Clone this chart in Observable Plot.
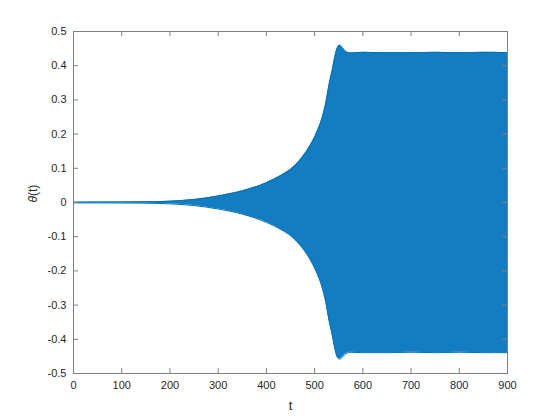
<!DOCTYPE html>
<html>
<head>
<meta charset="utf-8">
<script src="https://cdn.jsdelivr.net/npm/d3@7"></script>
<script src="https://cdn.jsdelivr.net/npm/@observablehq/plot@0.6"></script>
<style>
  html, body { margin: 0; padding: 0; background: #fff; }
  #chart { width: 560px; height: 420px; }
</style>
</head>
<body>
<div id="chart"></div>
<script>
// Envelope of the oscillation θ(t)
const tValues  = [0, 100, 150, 200, 250, 300, 350, 400, 430, 450, 470, 490, 505, 515, 523, 530, 537, 541, 547, 552, 558, 565, 575, 600, 650, 700, 750, 800, 850, 900];
const upperEnv = [0.001, 0.0015, 0.002, 0.004, 0.009, 0.019, 0.034, 0.058, 0.079, 0.097, 0.125, 0.165, 0.207, 0.245, 0.29, 0.345, 0.39, 0.42, 0.452, 0.46, 0.452, 0.441, 0.437, 0.439, 0.438, 0.438, 0.439, 0.438, 0.439, 0.438];
const lowerEnv = [-0.001, -0.0015, -0.002, -0.004, -0.009, -0.019, -0.034, -0.058, -0.079, -0.097, -0.125, -0.165, -0.207, -0.245, -0.29, -0.345, -0.39, -0.42, -0.452, -0.458, -0.452, -0.442, -0.438, -0.439, -0.439, -0.438, -0.439, -0.438, -0.439, -0.439];

const xTicks = [0, 100, 200, 300, 400, 500, 600, 700, 800, 900];
const yTicks = [-0.5, -0.4, -0.3, -0.2, -0.1, 0, 0.1, 0.2, 0.3, 0.4, 0.5];

const xLabel = "t";
const yLabel = "θ(t)";

const env = tValues.map((t, i) => ({t, hi: upperEnv[i], lo: lowerEnv[i]}));

const blue = "#0072BD";
const axisGray = "#808080";
const textCol = "#262626";

const fmtY = d => d === 0 ? "0" : String(d);

const chart = Plot.plot({
  width: 560,
  height: 420,
  marginLeft: 73,
  marginRight: 53,
  marginTop: 31,
  marginBottom: 47,
  style: {fontFamily: "Liberation Sans, Arial, sans-serif", fontSize: "11px", color: textCol, background: "#fff"},
  x: {domain: [0, 900]},
  y: {domain: [-0.5, 0.5]},
  marks: [
    Plot.areaY(env, {x: "t", y1: "lo", y2: "hi", fill: blue, fillOpacity: 0.92, curve: "monotone-x"}),
    Plot.line(env, {x: "t", y: "hi", stroke: blue, strokeWidth: 1, curve: "monotone-x"}),
    Plot.line(env, {x: "t", y: "lo", stroke: blue, strokeWidth: 1, curve: "monotone-x"}),
    Plot.frame({stroke: axisGray, strokeWidth: 1}),
    // inward ticks on all four sides
    Plot.ruleX(xTicks, {x: d => d, y1: -0.5, y2: -0.5 + 5 / 342, stroke: axisGray}),
    Plot.ruleX(xTicks, {x: d => d, y1: 0.5, y2: 0.5 - 5 / 342, stroke: axisGray}),
    Plot.ruleY(yTicks, {y: d => d, x1: 0, x2: 5 * 900 / 434, stroke: axisGray}),
    Plot.ruleY(yTicks, {y: d => d, x1: 900, x2: 900 - 5 * 900 / 434, stroke: axisGray}),
    Plot.axisX(xTicks, {tickSize: 0, tickPadding: 8, label: null, fill: textCol, fontSize: 11}),
    Plot.axisY(yTicks, {tickSize: 0, tickPadding: 7, tickFormat: fmtY, label: null, fill: textCol, fontSize: 11}),
    Plot.text([xLabel], {text: d => d, frameAnchor: "bottom", dy: 32, fontSize: 13, fill: textCol, lineAnchor: "middle"}),
    Plot.text([yLabel], {text: d => d, frameAnchor: "left", dx: -40, rotate: -90, fontSize: 12, fill: textCol, className: "ylab"})
  ]
});

document.getElementById("chart").appendChild(chart);

// italic θ in the y label
const yl = chart.querySelector(".ylab text");
if (yl) {
  yl.textContent = "";
  const ns = "http://www.w3.org/2000/svg";
  const a = document.createElementNS(ns, "tspan");
  a.setAttribute("font-style", "italic");
  a.textContent = "θ";
  const b = document.createElementNS(ns, "tspan");
  b.textContent = "(t)";
  yl.appendChild(a);
  yl.appendChild(b);
}
</script>
</body>
</html>
